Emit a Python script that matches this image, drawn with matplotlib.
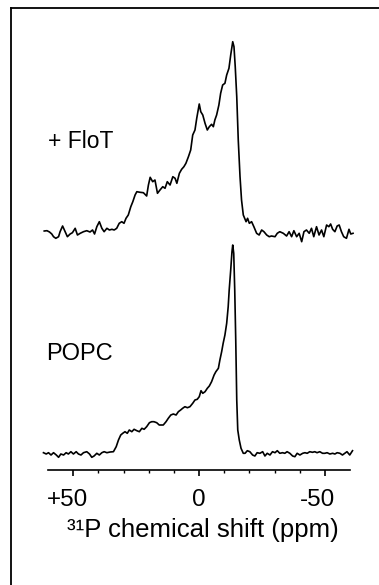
import matplotlib
matplotlib.use("Agg")
import matplotlib.pyplot as plt
from matplotlib.lines import Line2D
from matplotlib.transforms import ScaledTranslation

# ---- data ----
flot_ppm = [61.5, 60.4, 59.4, 58.5, 57.8, 56.9, 55.8, 55.2, 54.2, 53.2, 52.3, 51.2, 50.3, 49.2, 48.3,
            47.2, 45.9, 44.6, 43.3, 42.3, 41.5, 40.6, 39.6, 38.6, 37.7, 36.6, 35.6, 34.6, 33.7, 32.7,
            31.7, 30.7, 29.8, 29.0, 28.1, 27.1, 26.3, 25.4, 24.7, 23.4, 22.1, 20.8, 20.1, 19.4, 18.4,
            17.5, 16.5, 15.5, 14.4, 13.5, 12.6, 11.5, 10.4, 9.5, 8.8, 7.8, 6.9, 6.0, 5.2, 4.2,
            3.3, 2.5, 1.6, 0.9, -0.1, -0.7, -1.5, -2.4, -3.3, -4.1, -5.0, -5.7, -6.3, -7.0, -7.9,
            -8.6, -9.4, -10.3, -11.0, -11.9, -12.6, -13.4, -13.9, -14.4, -15.0, -15.6, -16.3, -16.9, -17.6, -18.7,
            -19.3, -20.0, -20.9, -21.8, -22.9, -23.9, -24.9, -25.8, -26.9, -27.9, -28.8, -30.2, -31.1, -32.1, -33.5,
            -34.8, -35.8, -36.8, -37.7, -38.8, -39.8, -40.8, -41.7, -42.7, -43.8, -44.7, -45.6, -46.7, -47.7, -48.7,
            -49.6, -50.7, -51.6, -52.3, -53.1, -54.0, -54.9, -55.7, -56.6, -57.5, -58.6, -59.6, -60.3, -61.2]
flot_int = [1, 1.3, 0, -2, -4.7, -6.3, -4.7, 0.3, 6, 0.3, -4.7, -2, -0.7, 3.7, -3,
            -1.3, 0.3, 1.3, 0, 2, -2, 5.3, 10.3, 3.7, 0.3, 3.7, 2, 2.7, 2, 3.7,
            8.7, 10.3, 8.7, 13.7, 17, 25.3, 30.3, 37, 40.3, 39.7, 39.3, 36, 47, 54.7, 50.3,
            52, 38.7, 42, 45.3, 43.7, 50.3, 47, 55.3, 53.7, 48.7, 58.7, 62.7, 65.3, 68.7, 75.3,
            82, 97, 102, 113.7, 128, 120.3, 117, 108.7, 102, 105.3, 107.7, 105.3, 112, 117, 127,
            138.7, 147, 148.7, 157, 163.7, 177, 190.3, 185.3, 165.3, 135.3, 92, 55.3, 32, 17, 10.3,
            13.7, 8.7, 10.3, 5.3, -1.3, -3, 2, 0.3, -3, -4.7, -4, -4.7, -1.3, 0.3, -1.3,
            -4, 0.3, -4.7, 1.3, -4.7, -1.3, -9.7, 0.3, 2, -1.3, 3.7, -4.7, 5.3, -3, 2,
            -4.7, 7, 5.3, 8, 2.7, 0.3, 6, 7, 0.3, -4.7, -6.3, 2.7, -2, -1.3]

popc_ppm = [61.8, 60.7, 59.8, 58.8, 57.8, 56.7, 55.8, 54.9, 53.8, 52.8, 51.9, 50.9, 49.9, 48.8, 47.9,
            46.9, 45.9, 44.6, 43.5, 42.6, 41.7, 40.6, 39.6, 38.6, 37.7, 36.6, 35.3, 34.0, 32.9, 32.0,
            31.1, 30.3, 29.4, 28.5, 27.7, 26.7, 25.8, 24.7, 23.7, 22.7, 21.8, 20.8, 19.7, 18.8, 17.9,
            16.8, 15.8, 15.2, 14.2, 13.1, 12.2, 11.2, 10.2, 9.1, 8.2, 7.3, 6.5, 5.6, 4.6, 3.6,
            2.5, 1.6, 0.7, -0.1, -0.8, -1.5, -2.4, -3.3, -4.1, -5.0, -6.0, -6.7, -7.7, -8.3, -9.0,
            -9.6, -10.3, -11.0, -11.6, -12.0, -12.6, -13.1, -13.4, -13.8, -14.2, -14.6, -15.0, -15.4, -16.0, -16.7,
            -17.6, -18.3, -19.2, -20.2, -21.3, -22.2, -23.1, -24.2, -25.3, -26.2, -27.1, -28.2, -29.2, -30.2, -31.1,
            -32.1, -33.2, -34.1, -35.0, -36.1, -37.2, -38.1, -39.0, -40.1, -41.2, -42.1, -43.0, -44.0, -45.1, -46.0,
            -46.9, -48.0, -49.1, -50.0, -50.9, -52.0, -53.1, -54.0, -54.9, -56.0, -57.0, -57.9, -58.8, -59.9, -61.0]
popc_int = [0.3, -1, 0.3, -2, 0.3, -2, -4.3, -1, -2, 0.3, -1, 1.3, -1, 1.3, -1,
            -2, 0.3, 1.3, -1, -4.3, -3, -0.3, -2, 0.3, 1.3, 0.3, 1, 1.3, 6.3, 13,
            18, 19.7, 21.3, 19.7, 23, 21.3, 23.7, 22.3, 21.3, 24.7, 23.7, 26.3, 30.3, 31.3, 31.3,
            30.3, 28, 28, 28, 31.3, 34.7, 38, 39, 38, 41.3, 43, 44.7, 46.3, 45.3, 46.3,
            49.7, 53, 53.7, 56.3, 62.3, 59.7, 61.3, 64.7, 67, 71.3, 78, 81.3, 84.7, 93, 101.3,
            109.7, 118, 129.7, 146.3, 163, 183, 201.3, 208, 199.7, 163, 113, 53, 23, 13, 4.7,
            -0.3, -0.3, 2.3, 1.3, -2, -3, 0.3, -0.3, 1.3, -3, -0.3, -2, 1.3, 0.3, 2.3,
            -0.3, 0.3, -0.3, 1.3, -0.3, -3, -3.7, -0.3, -2, -0.3, 0.3, -0.3, 1.3, 0.7, 1.3,
            0.3, 1.3, -0.3, -0.3, 0.3, -1, -0.3, -1, 0.3, -0.3, -2, -0.3, 1.3, -2, 2.3]

major_ticks = [50, 0, -50]
major_labels = ["+50", "0", "-50"]
minor_ticks = [40, 30, 20, 10, -10, -20, -30, -40]
sample_labels = ["+ FloT", "POPC"]
xlabel = "\u00b3\u00b9P chemical shift (ppm)"

# ---- figure ----
W, H = 379, 585
fig = plt.figure(figsize=(W / 100, H / 100), dpi=100)
plt.rcParams['font.family'] = ['Liberation Sans', 'DejaVu Sans']

# frame lines (top and left only, as in the cropped reference)
fig.add_artist(Line2D([11 / W, 11 / W], [0, 1 - 8 / H], transform=fig.transFigure,
                      color='black', lw=1.3))
fig.add_artist(Line2D([11 / W, 1], [1 - 8 / H, 1 - 8 / H], transform=fig.transFigure,
                      color='black', lw=1.3))

ax_left, ax_right = 48, 350
ax_bot, ax_top = 470, 30
ax = fig.add_axes([ax_left / W, 1 - ax_bot / H, (ax_right - ax_left) / W, (ax_bot - ax_top) / H])

offset = 221  # vertical offset of the upper trace
ax.plot(popc_ppm, popc_int, color='black', lw=1.2, clip_on=False)
ax.plot(flot_ppm, [v + offset for v in flot_int], color='black', lw=1.2, clip_on=False)

ax.set_xlim(60, -60)
ax.set_ylim(-17, 423)

for s in ['top', 'left', 'right']:
    ax.spines[s].set_visible(False)
ax.spines['bottom'].set_linewidth(1.2)
ax.set_yticks([])
ax.set_xticks(major_ticks)
ax.set_xticklabels(major_labels)
ax.set_xticks(minor_ticks, minor=True)
ax.tick_params(axis='x', which='major', direction='out', length=4.5, width=1.2,
               labelsize=17.5, pad=9.5)
ax.tick_params(axis='x', which='minor', direction='out', length=2.5, width=1.0)
ax.patch.set_visible(False)

shifts = [-6.0, 0, -7.0]
for lab, dx in zip(ax.get_xticklabels(), shifts):
    lab.set_transform(lab.get_transform() + ScaledTranslation(dx / 100, 0, fig.dpi_scale_trans))

xl = ax.set_xlabel(xlabel, fontsize=18.5, labelpad=5)
xl.set_transform(xl.get_transform() + ScaledTranslation(3.5 / 100, 0, fig.dpi_scale_trans))

fig.text(48 / W, 1 - 148 / H, sample_labels[0], fontsize=16.5, va='baseline', ha='left')
fig.text(46 / W, 1 - 360 / H, sample_labels[1], fontsize=17, va='baseline', ha='left')

fig.savefig("out.png", dpi=100)
